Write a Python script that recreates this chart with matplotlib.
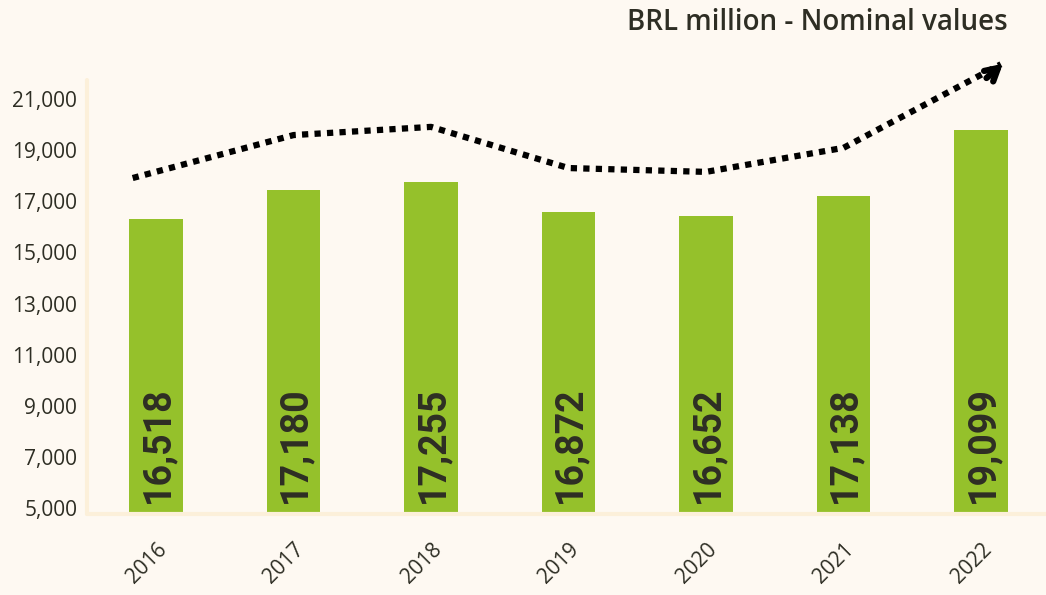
import matplotlib
matplotlib.use("Agg")
import matplotlib.pyplot as plt

years = ["2016", "2017", "2018", "2019", "2020", "2021", "2022"]
bar_values = [16310, 17440, 17750, 16580, 16420, 17200, 19790]
bar_labels = ["16,518", "17,180", "17,255", "16,872", "16,652", "17,138", "19,099"]
trend_x = [-0.17, 1, 2, 3, 4, 5, 6.175]
trend_y = [17910, 19590, 19910, 18300, 18150, 19090, 22450]
yticks = [5000, 7000, 9000, 11000, 13000, 15000, 17000, 19000, 21000]
ytick_labels = ["5,000", "7,000", "9,000", "11,000", "13,000", "15,000", "17,000", "19,000", "21,000"]

BG = "#FEF9F2"
BAR = "#95C12B"
SPINE = "#FCF0DA"
TXT = "#2E2E24"

fig = plt.figure(figsize=(10.46, 5.95), dpi=100, facecolor=BG)
ax = fig.add_axes([0.0832, 0.136, 0.9168, 0.7295], facecolor=BG)

x = list(range(len(years)))
ax.bar(x, bar_values, width=0.39, color=BAR, zorder=2)

for xi, lab in zip(x, bar_labels):
    ax.text(xi + 0.01, 5180, lab, rotation=90, ha="center", va="bottom",
            fontsize=27, fontweight="bold", family="Roboto", color=TXT, zorder=3)

ax.plot(trend_x[:-1] + [trend_x[-1] - 0.03], trend_y[:-1] + [trend_y[-1] - 90],
        color="black", lw=4.5, linestyle=(0, (1, 1)), clip_on=False, zorder=4,
        dash_capstyle="butt")
ax.annotate("", xy=(trend_x[-1], trend_y[-1]), xytext=(trend_x[-1] - 0.15, trend_y[-1] - 700),
            arrowprops=dict(arrowstyle="->,head_length=0.9,head_width=0.5", color="black", lw=4.5),
            annotation_clip=False, zorder=5)

ax.set_xlim(-0.502, 6.473)
ax.set_ylim(4765, 21743)
ax.set_yticks(yticks)
ax.set_yticklabels(ytick_labels, fontsize=15, family="Open Sans", color=TXT)
ax.set_xticks(x)
ax.set_xticklabels(years, rotation=45, ha="right", rotation_mode="anchor",
                   fontsize=15, family="Open Sans", color=TXT)
ax.tick_params(axis="both", length=0)
ax.tick_params(axis="y", pad=7)
ax.tick_params(axis="x", pad=18)

for s in ["top", "right"]:
    ax.spines[s].set_visible(False)
for s in ["left", "bottom"]:
    ax.spines[s].set_color(SPINE)
    ax.spines[s].set_linewidth(3)
    ax.spines[s].set_capstyle("round")

fig.text(0.9637, 0.962, "BRL million - Nominal values", ha="right", va="center",
         fontsize=20, fontweight="semibold", family="Open Sans", color=TXT)

fig.savefig("out.png", dpi=100, facecolor=BG)
